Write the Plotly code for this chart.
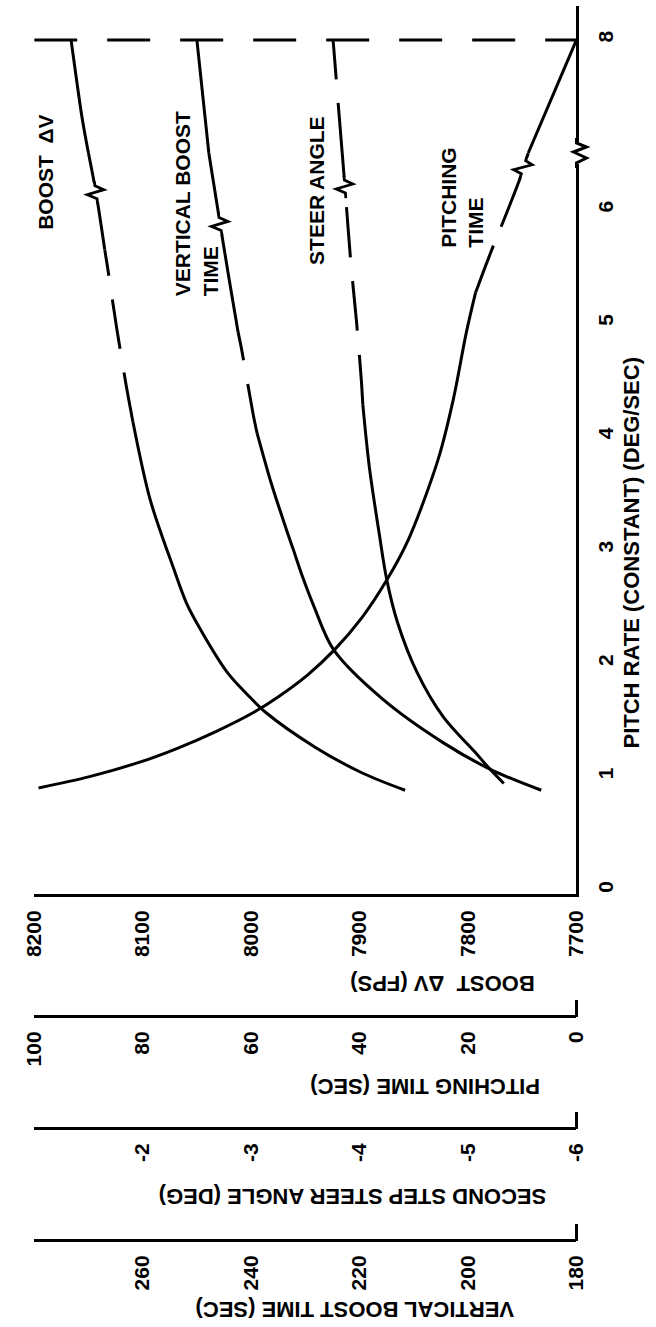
import plotly.graph_objects as go

# ---------------- data ----------------
# pitch rate (deg/sec) vs. each quantity; lower part (0..6.5) and part above the axis break (7..8)

# BOOST ΔV (ft/s)
boost_p_solid = [0.88, 1.03, 1.26, 1.57, 1.70, 1.92, 2.32, 2.54, 2.85, 3.44, 4.13]
boost_v_solid = [7858, 7897, 7941, 7987, 8001, 8022, 8048, 8060, 8072, 8093, 8109]
boost_p_dash = [4.13, 4.44, 4.96, 5.47, 5.65]
boost_v_dash = [8109, 8115, 8124, 8132, 8135]
boost_p_top = [5.65, 6.15, 6.50]
boost_v_top = [8135, 8143, 8150]
boost_p_up = [7.0, 7.32, 7.93, 8.0]
boost_v_up = [8150, 8156, 8165, 8166]

# VERTICAL BOOST TIME (sec)
vbt_p_solid = [0.88, 1.06, 1.30, 1.69, 2.12, 2.50, 2.76, 3.00, 3.18, 3.59, 4.03]
vbt_v_solid = [186.5, 195.7, 204.6, 215.9, 224.8, 228.4, 230.5, 232.2, 233.5, 236.3, 238.9]
vbt_p_dash = [4.03, 4.19, 4.78, 4.92]
vbt_v_dash = [238.9, 239.6, 241.8, 242.4]
vbt_p_top = [4.92, 5.40, 5.87, 6.50]
vbt_v_top = [242.4, 244.1, 245.7, 247.8]
vbt_p_up = [7.0, 7.32, 8.0]
vbt_v_up = [247.8, 248.5, 250.0]

# SECOND STEP STEER ANGLE (deg)
steer_p_solid = [0.94, 1.09, 1.21, 1.53, 1.92, 2.36, 2.74, 3.15, 3.73, 4.28]
steer_v_solid = [-5.33, -5.18, -5.07, -4.77, -4.53, -4.35, -4.25, -4.18, -4.09, -4.03]
steer_p_dash = [4.28, 4.50, 5.01, 5.53, 6.20, 6.50]
steer_v_dash = [-4.03, -4.016, -3.972, -3.92, -3.865, -3.84]
steer_p_up = [7.0, 7.47, 7.95, 8.0]
steer_v_up = [-3.84, -3.80, -3.76, -3.755]

# PITCHING TIME (sec)
ptime_p_solid = [0.90, 1.0, 1.13, 1.25, 1.4, 1.57, 1.7, 1.9, 2.12, 2.4, 2.74, 3.09,
                 3.8, 4.33, 4.92, 5.27]
ptime_v_solid = [99.2, 89.8, 80.4, 73.6, 66.4, 59.4, 55.1, 49.5, 44.6, 39.6, 34.9, 31.0,
                 25.5, 22.7, 20.3, 18.6]
ptime_p_dash = [5.27, 5.5, 5.71, 5.85]
ptime_v_dash = [18.6, 16.8, 15.1, 13.9]
ptime_p_top = [5.85, 6.29, 6.50]
ptime_v_top = [13.9, 10.3, 8.9]
ptime_p_up = [7.0, 8.0]
ptime_v_up = [8.9, 0.0]

# dashed line at 8 deg/sec
top_line_p = [8.0, 8.0]
top_line_v = [8200, 7700]

# break marks on the curves (pitch rate, value)
boost_break = (6.15, 8143)
vbt_break = (5.87, 245.7)
steer_break = (6.20, -3.865)
ptime_break = (6.37, 9.8)

# tick values
pitch_ticks_low = [0, 1, 2, 3, 4, 5, 6]
pitch_ticks_up = [8]
boost_ticks = [8200, 8100, 8000, 7900, 7800, 7700]
ptime_ticks = [100, 80, 60, 40, 20, 0]
steer_ticks = [-2, -3, -4, -5, -6]
steer_ticktext = ["-2", "-3", "-4", "-5", "-6"]
vbt_ticks = [260, 240, 220, 200, 180]

# ---------------- layout geometry ----------------
W, H = 656, 1327
X_L, X_R = 23, 585
Y_BOT, Y_BRK, Y_TOP = 894, 153, 6
Y_PTIME, Y_STEER, Y_VBT = 1016, 1128, 1240
END_TICK = 16


def fx(px):
    return px / W


def fy(py):
    return 1 - py / H


dom_x = [fx(X_L), fx(X_R)]
LOW_RANGE = [-0.035, 6.5]
UP_RANGE = [7.0, 8.3]
BOOST_RANGE = [8200, 7700]
PTIME_RANGE = [100, 0]
STEER_RANGE = [-1, -6]
VBT_RANGE = [280, 180]

FONT = "Liberation Sans, Arial, sans-serif"

fig = go.Figure()


def add_line(x, y, xa, ya, dash="solid", width=3):
    fig.add_trace(go.Scatter(
        x=x, y=y, xaxis=xa, yaxis=ya, mode="lines",
        line=dict(color="black", width=width, dash=dash, shape="spline", smoothing=0.9),
        hoverinfo="skip", showlegend=False))


CURVE_DASH = "50px,24px"

# boost
add_line(boost_v_solid, boost_p_solid, "x", "y")
add_line(boost_v_dash, boost_p_dash, "x", "y", CURVE_DASH)
add_line(boost_v_top, boost_p_top, "x", "y")
add_line(boost_v_up, boost_p_up, "x", "y2")
# vertical boost time
add_line(vbt_v_solid, vbt_p_solid, "x4", "y")
add_line(vbt_v_dash, vbt_p_dash, "x4", "y", CURVE_DASH)
add_line(vbt_v_top, vbt_p_top, "x4", "y")
add_line(vbt_v_up, vbt_p_up, "x4", "y2")
# steer angle
add_line(steer_v_solid, steer_p_solid, "x3", "y")
add_line(steer_v_dash, steer_p_dash, "x3", "y", CURVE_DASH)
add_line(steer_v_up, steer_p_up, "x3", "y2", CURVE_DASH)
# pitching time
add_line(ptime_v_solid, ptime_p_solid, "x2", "y")
add_line(ptime_v_dash, ptime_p_dash, "x2", "y", CURVE_DASH)
add_line(ptime_v_top, ptime_p_top, "x2", "y")
add_line(ptime_v_up, ptime_p_up, "x2", "y2")
# dashed line at 8 deg/sec
add_line(top_line_v, top_line_p, "x", "y2", "43px,30px")

tickfont = dict(family=FONT, size=21, color="black", weight="bold")

common_x = dict(domain=dom_x, showgrid=False, zeroline=False, showline=True,
                linecolor="black", linewidth=3, ticks="", tickangle=-90,
                tickfont=tickfont, tickmode="array", ticklabelstandoff=5)

common_y = dict(showgrid=False, zeroline=False, showline=True, linecolor="black",
                linewidth=3, ticks="", tickangle=-90, tickfont=tickfont,
                tickmode="array", side="right", anchor="x", ticklabelstandoff=8)

fig.update_layout(
    width=W, height=H,
    margin=dict(l=0, r=0, t=0, b=0),
    paper_bgcolor="white", plot_bgcolor="white",
    showlegend=False,
    xaxis=dict(**common_x, range=BOOST_RANGE, anchor="y", tickvals=boost_ticks),
    xaxis2=dict(**common_x, range=PTIME_RANGE, overlaying="x", anchor="free",
                position=fy(Y_PTIME), tickvals=ptime_ticks),
    xaxis3=dict(**common_x, range=STEER_RANGE, overlaying="x", anchor="free",
                position=fy(Y_STEER), tickvals=steer_ticks, ticktext=steer_ticktext),
    xaxis4=dict(**common_x, range=VBT_RANGE, overlaying="x", anchor="free",
                position=fy(Y_VBT), tickvals=vbt_ticks),
    yaxis=dict(**common_y, domain=[fy(Y_BOT), fy(Y_BRK)], range=LOW_RANGE,
               tickvals=pitch_ticks_low),
    yaxis2=dict(**common_y, domain=[fy(Y_BRK), fy(Y_TOP)], range=UP_RANGE,
                tickvals=pitch_ticks_up),
)

# end hooks at the right end of the three lower scales (axis decoration)
for ay in (Y_PTIME, Y_STEER, Y_VBT):
    fig.add_shape(type="line", xref="paper", yref="paper",
                  x0=fx(X_R), x1=fx(X_R), y0=fy(ay + 1), y1=fy(ay - END_TICK),
                  line=dict(color="black", width=3), layer="above")

# ---------------- break marks ----------------
PX_P = (Y_BOT - Y_BRK) / (LOW_RANGE[1] - LOW_RANGE[0])
PX_W = X_R - X_L


def slope_px(ps, vs, rng, p0):
    # horizontal pixel shift per vertical pixel near p0 (positive = right going up)
    best = len(ps) - 2
    for i in range(len(ps) - 1):
        if ps[i] <= p0 <= ps[i + 1]:
            best = i
            break
    dv = vs[best + 1] - vs[best]
    dp = ps[best + 1] - ps[best]
    return (dv / (rng[1] - rng[0]) * PX_W) / (dp * PX_P)


def zig_path(s, amp, half):
    pts = [(-s * half, -half), (-s * 6, -6), (-s * 2 - amp, -2),
           (s * 2 + amp * 0.9, 3), (s * 7, 7), (s * half, half)]
    return "M " + " L ".join(f"{a:.1f},{b:.1f}" for a, b in pts)


def cover_path(s, half, w=6):
    b = (-s * half, -half)
    t = (s * half, half)
    return (f"M {b[0]-w:.1f},{b[1]:.1f} L {b[0]+w:.1f},{b[1]:.1f} "
            f"L {t[0]+w:.1f},{t[1]:.1f} L {t[0]-w:.1f},{t[1]:.1f} Z")


def add_break(xref, yref, xv, pv, s, amp=9, half=11):
    fig.add_shape(type="path", xref=xref, yref=yref, xsizemode="pixel", ysizemode="pixel",
                  xanchor=xv, yanchor=pv, path=cover_path(s, half - 1),
                  fillcolor="white", line=dict(width=0), layer="above")
    fig.add_shape(type="path", xref=xref, yref=yref, xsizemode="pixel", ysizemode="pixel",
                  xanchor=xv, yanchor=pv, path=zig_path(s, amp, half),
                  line=dict(color="black", width=2.8), layer="above")


add_break("x", "y", boost_break[1], boost_break[0],
          slope_px(boost_p_top, boost_v_top, BOOST_RANGE, boost_break[0]))
add_break("x4", "y", vbt_break[1], vbt_break[0],
          slope_px(vbt_p_top, vbt_v_top, VBT_RANGE, vbt_break[0]))
add_break("x3", "y", steer_break[1], steer_break[0],
          slope_px(steer_p_dash, steer_v_dash, STEER_RANGE, steer_break[0]))
add_break("x2", "y", ptime_break[1], ptime_break[0],
          slope_px(ptime_p_top, ptime_v_top, PTIME_RANGE, ptime_break[0]))

# break on the pitch-rate axis (placed in paper space so it is not clipped)
axis_zig = "M 0,15 L 0,10 L 10,6 L -3,1 L 10,-5 L 0,-10 L 0,-15"
fig.add_shape(type="path", xref="paper", yref="paper", xsizemode="pixel", ysizemode="pixel",
              xanchor=fx(X_R), yanchor=fy(Y_BRK), path="M -3,-11 L 3,-11 L 3,11 L -3,11 Z",
              fillcolor="white", line=dict(width=0), layer="above")
fig.add_shape(type="path", xref="paper", yref="paper", xsizemode="pixel", ysizemode="pixel",
              xanchor=fx(X_R), yanchor=fy(Y_BRK), path=axis_zig,
              line=dict(color="black", width=3), layer="above")


# ---------------- text ----------------
def note(text, x, y, size, angle, align="center"):
    fig.add_annotation(text=text, xref="paper", yref="paper", x=fx(x), y=fy(y),
                       xanchor="center", yanchor="middle", showarrow=False,
                       textangle=angle, align=align,
                       font=dict(family=FONT, size=size, color="black", weight="bold"))


note("BOOST  ΔV", 34, 172, 21, -90)
note("VERTICAL BOOST<br>TIME", 191, 204, 21, -90, align="left")
note("STEER ANGLE", 315, 190, 21, -90)
note("PITCHING<br>TIME", 466, 198, 21, -90, align="left")
note("PITCH RATE (CONSTANT) (DEG/SEC)", 642, 552, 22, -90)

note("BOOST  ΔV (FPS)", 446, 984, 22, 180)
note("PITCHING TIME (SEC)", 428, 1087, 22, 180)
note("SECOND STEP STEER ANGLE (DEG)", 353, 1197, 22, 180)
note("VERTICAL BOOST TIME (SEC)", 355, 1310, 22, 180)

fig.write_html("out.html", config={"displayModeBar": False})
